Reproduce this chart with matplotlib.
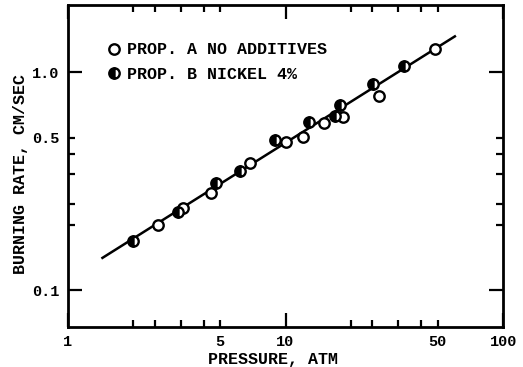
import numpy as np
import matplotlib
matplotlib.use("Agg")
import matplotlib.pyplot as plt

# Prop. A, no additives (open circles)
pressure_a = [2.58, 3.36, 4.56, 6.89, 10.0, 12.0, 15.1, 18.4, 26.9, 48.5]
rate_a = [0.200, 0.239, 0.279, 0.384, 0.478, 0.504, 0.584, 0.622, 0.782, 1.28]

# Prop. B, nickel 4% (half-filled circles)
pressure_b = [1.98, 3.20, 4.77, 6.20, 8.92, 12.8, 16.8, 17.75, 25.1, 34.9]
rate_b = [0.168, 0.229, 0.311, 0.352, 0.490, 0.590, 0.633, 0.704, 0.884, 1.065]

# fitted line
fit_p = [1.44, 60.0]
fit_r = [0.141, 1.46]

x_minor = [2, 2.5, 3.3, 4.2, 5, 20, 25, 33, 42, 50]
x_minor_labels = ["", "", "", "", "5", "", "", "", "", "50"]
y_minor = [0.2, 0.25, 0.34, 0.42, 0.5]
y_minor_labels = ["", "", "", "", "0.5"]

plt.rcParams["font.family"] = "Liberation Mono"
plt.rcParams["font.weight"] = "bold"

fig = plt.figure(figsize=(5.23, 3.67), dpi=100)
ax = fig.add_axes([0.130, 0.109, 0.832, 0.877])

ax.plot(fit_p, fit_r, color="black", lw=1.8, zorder=2)
ax.plot(pressure_a, rate_a, "o", ms=7.5, mfc="white", mec="black", mew=1.7,
        label="PROP. A NO ADDITIVES", zorder=3)
ax.plot(pressure_b, rate_b, "o", ms=7.5, fillstyle="left", color="black",
        markerfacecoloralt="white", mec="black", mew=1.7,
        label="PROP. B NICKEL 4%", zorder=3)

ax.set_xscale("log")
ax.set_yscale("log")
ax.set_xlim(1, 100)
ax.set_ylim(0.068, 2.03)

ax.set_xticks([1, 10, 100], ["1", "10", "100"])
ax.set_xticks(x_minor, x_minor_labels, minor=True)
ax.set_yticks([0.1, 1.0], ["0.1", "1.0"])
ax.set_yticks(y_minor, y_minor_labels, minor=True)

ax.tick_params(which="both", direction="in", top=True, right=True,
               labelsize=11, width=1.6, pad=6)
ax.tick_params(which="major", length=10)
ax.tick_params(which="minor", length=5)
for s in ax.spines.values():
    s.set_linewidth(2.0)

ax.set_xlabel("PRESSURE, ATM", fontsize=12, fontweight="bold")
ax.set_ylabel("BURNING RATE, CM/SEC", fontsize=12, fontweight="bold")
ax.xaxis.set_label_coords(0.47, -0.078)
ax.yaxis.set_label_coords(-0.092, 0.475)

ax.legend(loc="upper left", bbox_to_anchor=(0.08, 0.905), frameon=False,
          handlelength=0.6, handletextpad=0.45, labelspacing=0.55,
          borderaxespad=0, prop={"size": 12, "weight": "bold"})

fig.savefig("out.png", dpi=100)
